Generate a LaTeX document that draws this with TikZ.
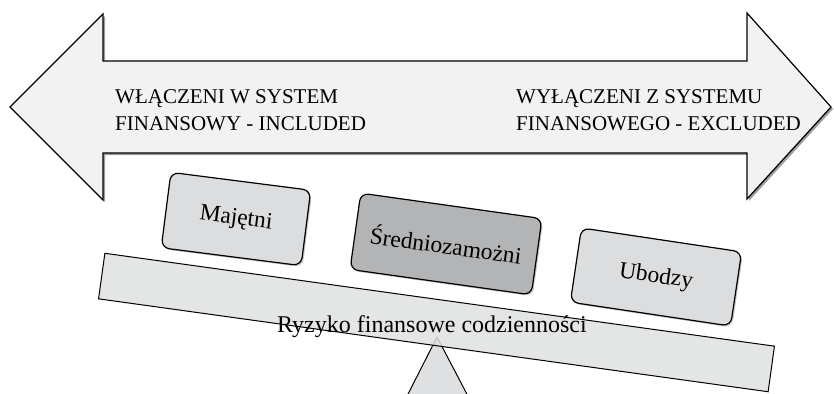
\documentclass[tikz,border=0pt]{standalone}
\usepackage{fontspec}
\setmainfont{Liberation Serif}
\usetikzlibrary{shadows}

\definecolor{arrowfill}{HTML}{F2F2F3}
\definecolor{boxfill}{HTML}{DCDDDF}
\definecolor{midfill}{HTML}{B3B4B6}
\definecolor{beamfill}{HTML}{DFE0E1}

\begin{document}
\begin{tikzpicture}[x=1pt,y=-1pt,
      group/.style={draw,line width=1.2pt,rounded corners=8pt,inner sep=0pt,
        fill=boxfill,font=\fontsize{23.5}{28}\selectfont,
        drop shadow={shadow xshift=1.5pt,shadow yshift=-1.5pt,opacity=0.45}},
      label/.style={inner sep=0pt,align=left,font=\fontsize{21}{27}\selectfont}]

      \useasboundingbox (0,0) rectangle (834,393);
      \clip (0,0) rectangle (834,393);

      % double arrow
      \fill[black!38] (12,109) -- (105,16) -- (105,63) -- (749,63) -- (749,15)
        -- (833,109) -- (749,201) -- (749,155) -- (105,155) -- (105,202) -- cycle;
      \draw[line width=1.2pt,fill=arrowfill] (10,107) -- (103,14) -- (103,61)
        -- (747,61) -- (747,13) -- (831,107) -- (747,199) -- (747,153)
        -- (103,153) -- (103,200) -- cycle;

      \node[label,anchor=west] (incl) at (115,110)
        {WŁĄCZENI W SYSTEM\\FINANSOWY - INCLUDED};
      \node[label,anchor=west] (excl) at (516,110)
        {WYŁĄCZENI Z SYSTEMU\\FINANSOWEGO - EXCLUDED};

      % scale
      \draw[line width=1pt,fill=beamfill] (437,337) -- (405,400) -- (470,400) -- cycle;
      \node[draw,line width=1pt,fill=beamfill,fill opacity=0.85,rotate=-7.9,
        minimum width=676pt,minimum height=46pt] (beam) at (436.5,322.5) {};

      \node[group,rotate=-7.3,minimum width=141pt,minimum height=76pt]
        (rich) at (236,219) {Majętni};
      \node[group,fill=midfill,rotate=-8,minimum width=183pt,minimum height=77pt]
        (middle) at (446,244) {Średniozamożni};
      \node[group,rotate=-8.5,minimum width=162pt,minimum height=75pt]
        (poor) at (656,277) {Ubodzy};

      \node[inner sep=0pt,anchor=base,font=\fontsize{24}{28}\selectfont]
        (risk) at (432,332) {Ryzyko finansowe codzienności};
    \end{tikzpicture}
\end{document}
